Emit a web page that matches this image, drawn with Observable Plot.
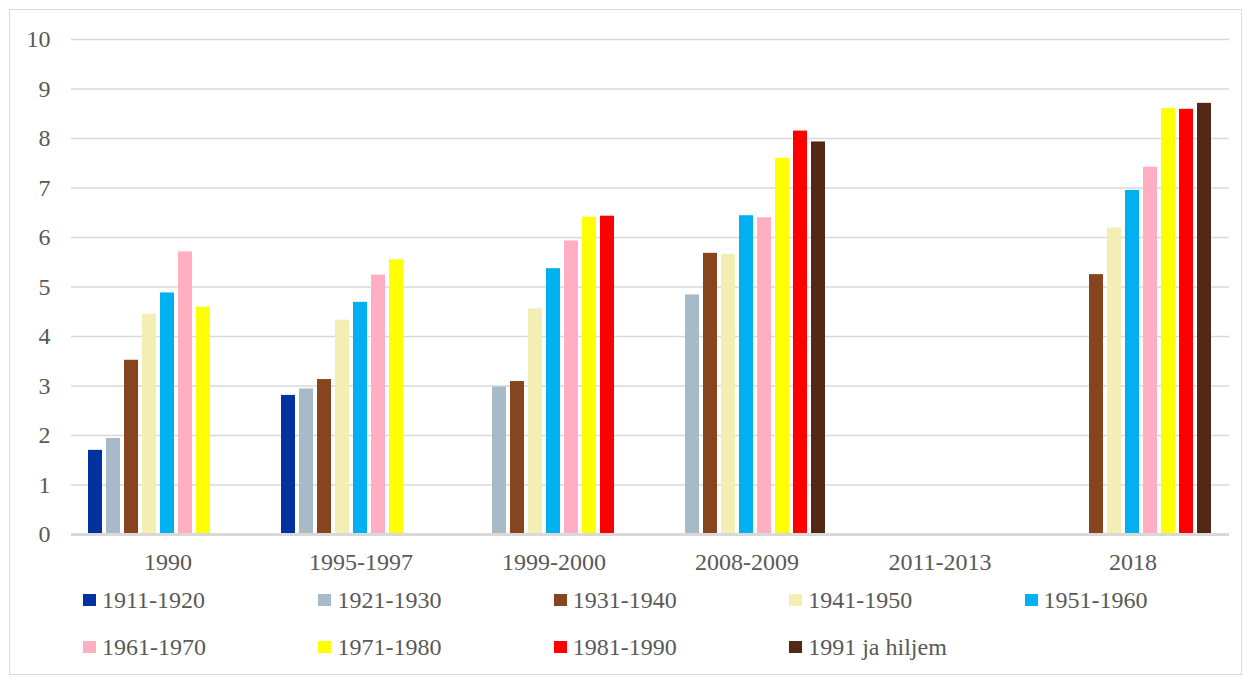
<!DOCTYPE html>
<html>
<head>
<meta charset="utf-8">
<script src="https://cdn.jsdelivr.net/npm/d3@7"></script>
<script src="https://cdn.jsdelivr.net/npm/@observablehq/plot@0.6"></script>
<style>
  html, body { margin: 0; padding: 0; background: #fff; }
  #wrap { position: relative; width: 1249px; height: 682px; overflow: hidden; font-family: "Liberation Serif", "Times New Roman", serif; color: #595959; }
  #border { position: absolute; left: 9px; top: 9px; width: 1233px; height: 666px; border: 1px solid #d9d9d9; box-sizing: border-box; }
  #chart { position: absolute; left: 0; top: 0; }
  .item { position: absolute; display: flex; align-items: center; font-size: 24px; line-height: 1; white-space: nowrap; }
  .sw { width: 13px; height: 12px; margin-right: 6px; flex: none; }
</style>
</head>
<body>
<div id="wrap">
  <div id="border"></div>
  <div id="chart"></div>
  <div id="legend"></div>
</div>
<script>
const periods = ["1990", "1995-1997", "1999-2000", "2008-2009", "2011-2013", "2018"];
const series = ["1911-1920", "1921-1930", "1931-1940", "1941-1950", "1951-1960", "1961-1970", "1971-1980", "1981-1990", "1991 ja hiljem"];
const colors = ["#0033a0", "#a6bac8", "#86441f", "#f4eeb5", "#00b0f0", "#ffafc1", "#ffff00", "#ff0000", "#532814"];

const s1911 = [1.70, 2.81, null, null, null, null];
const s1921 = [1.94, 2.94, 2.98, 4.84, null, null];
const s1931 = [3.52, 3.13, 3.09, 5.68, null, 5.25];
const s1941 = [4.45, 4.33, 4.56, 5.66, null, 6.19];
const s1951 = [4.88, 4.69, 5.37, 6.44, null, 6.95];
const s1961 = [5.71, 5.24, 5.93, 6.40, null, 7.42];
const s1971 = [4.59, 5.55, 6.41, 7.60, null, 8.61];
const s1981 = [null, null, 6.43, 8.15, null, 8.59];
const s1991 = [null, null, null, 7.93, null, 8.71];

const yTicks = [0, 1, 2, 3, 4, 5, 6, 7, 8, 9, 10];

const seriesValues = [s1911, s1921, s1931, s1941, s1951, s1961, s1971, s1981, s1991];
const rows = [];
periods.forEach((p, i) => {
  series.forEach((s, j) => {
    rows.push({period: p, series: s, value: seriesValues[j][i]});
  });
});

const chart = Plot.plot({
  width: 1249,
  height: 579,
  marginLeft: 71,
  marginRight: 20,
  marginTop: 39,
  marginBottom: 45,
  style: {fontFamily: '"Liberation Serif", "Times New Roman", serif', fontSize: "24px", color: "#595959", background: "transparent", overflow: "visible"},
  fx: {domain: periods, padding: 0, label: null, tickSize: 0, tickPadding: 18, axis: "bottom"},
  x: {domain: series, axis: null, paddingInner: 0.2, paddingOuter: 0.875},
  y: {domain: [0, 10], ticks: yTicks, tickSize: 0, tickPadding: 21, label: null, tickFormat: d => String(d)},
  color: {domain: series, range: colors},
  marks: [
    Plot.ruleY(yTicks.filter(d => d > 0), {stroke: "#d9d9d9", strokeWidth: 1.5}),
    Plot.barY(rows, {fx: "period", x: "series", y: "value", fill: "series"}),
    Plot.ruleY([0], {stroke: "#d9d9d9", strokeWidth: 3})
  ]
});
document.getElementById("chart").appendChild(chart);

// legend
const legend = document.getElementById("legend");
series.forEach((s, i) => {
  const col = i % 5, row = Math.floor(i / 5);
  const item = document.createElement("div");
  item.className = "item";
  item.style.left = (83 + col * 235.4) + "px";
  item.style.top = (row === 0 ? 587 : 634) + "px";
  item.style.height = "26px";
  const sw = document.createElement("div");
  sw.className = "sw";
  sw.style.background = colors[i];
  const t = document.createElement("span");
  t.textContent = s;
  item.appendChild(sw);
  item.appendChild(t);
  legend.appendChild(item);
});
</script>
</body>
</html>
